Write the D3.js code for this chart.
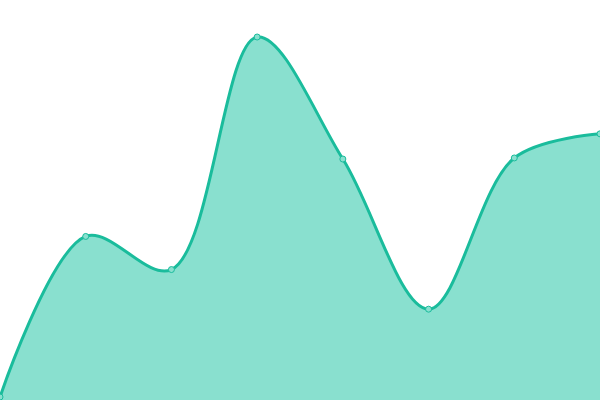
<!DOCTYPE html>
<html>
<head>
<meta charset="utf-8">
<script src="https://cdn.jsdelivr.net/npm/d3@7"></script>
<style>
  html, body { margin: 0; padding: 0; background: #fff; }
  svg { display: block; }
</style>
</head>
<body>
<svg width="600" height="400"></svg>
<script>
const categories = ["A", "B", "C", "D", "E", "F", "G", "H"]
const values = [0, 44.6, 35.4, 100, 66.1, 24.4, 66.4, 73.1]

const svg = d3.select("svg")

const xScale = d3.scalePoint()
  .domain(categories)
  .range([0, 600])

const yScale = d3.scaleLinear()
  .domain([0, 100])
  .range([397, 37])

const data = categories.map((c, i) => { return { cat: c, value: values[i] } })

const area = d3.area()
  .x((d) => { return xScale(d.cat) })
  .y0(400)
  .y1((d) => { return yScale(d.value) })
  .curve(d3.curveCatmullRom.alpha(0.5))

const line = d3.line()
  .x((d) => { return xScale(d.cat) })
  .y((d) => { return yScale(d.value) })
  .curve(d3.curveCatmullRom.alpha(0.5))

svg.append("path").datum(data)
  .attr("d", area)
  .attr("fill", "#89e0cf")

svg.append("path").datum(data)
  .attr("d", line)
  .attr("fill", "none")
  .attr("stroke", "#1abc9c")
  .attr("stroke-width", 3)

svg.selectAll("circle").data(data).enter().append("circle")
  .attr("cx", (d) => { return xScale(d.cat) })
  .attr("cy", (d) => { return yScale(d.value) })
  .attr("r", 3)
  .attr("fill", "#89e0cf")
  .attr("stroke", "#1abc9c")
  .attr("stroke-width", 1)
</script>
</body>
</html>
